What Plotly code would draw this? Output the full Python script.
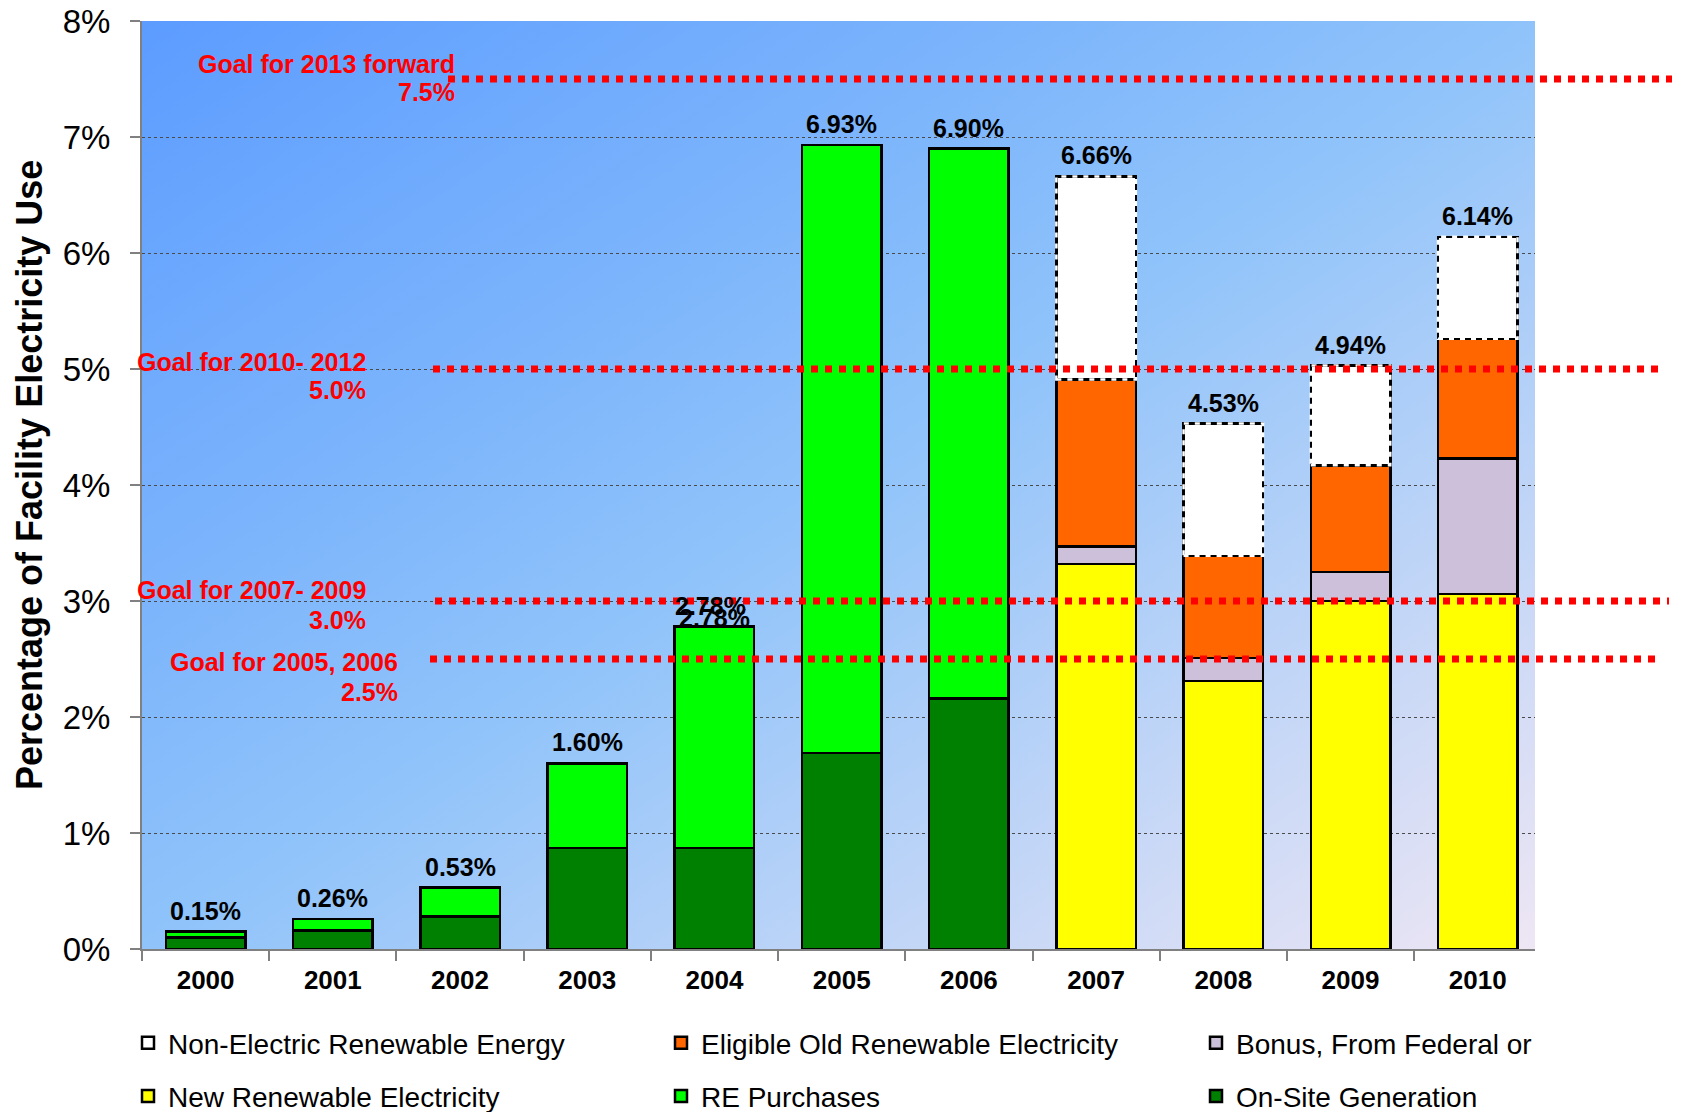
import base64
import plotly.graph_objects as go

# ---------------- data ----------------
years = ["2000", "2001", "2002", "2003", "2004", "2005", "2006", "2007", "2008", "2009", "2010"]
on_site = [0.10, 0.16, 0.28, 0.87, 0.87, 1.69, 2.16, None, None, None, None]
re_purchases = [0.05, 0.10, 0.25, 0.73, 1.91, 5.24, 4.74, None, None, None, None]
new_renewable = [None] * 7 + [3.32, 2.31, 3.00, 3.06]
bonus = [None] * 7 + [0.15, 0.20, 0.25, 1.17]
eligible_old = [None] * 7 + [1.44, 0.88, 0.92, 1.03]
non_electric = [None] * 7 + [1.75, 1.14, 0.86, 0.88]
total_labels = ["0.15%", "0.26%", "0.53%", "1.60%", "2.78%", "6.93%", "6.90%",
                "6.66%", "4.53%", "4.94%", "6.14%"]

goal_values = [7.5, 5.0, 3.0, 2.5]
goal_titles = ["Goal for 2013 forward", "Goal for 2010- 2012", "Goal for 2007- 2009", "Goal for 2005, 2006"]
goal_pcts = ["7.5%", "5.0%", "3.0%", "2.5%"]

# ---------------- style / layout params ----------------
FONT = "Arial, Liberation Sans, sans-serif"
W, H = 1683, 1112
ML, MR, MT, MB = 142, 148, 21, 163
PW = W - ML - MR
PH = H - MT - MB
BARGAP = 0.375
HALF = (1 - BARGAP) / 2

goal_line_start_px = [448, 433, 435, 430]
goal_line_end_px = [1672, 1663, 1669, 1658]
goal_label_right_px = [457, 368, 368, 400]
goal_title_shift = [15, 7, 11, -3]
goal_pct_shift = [-13, -21, -19, -33]


def px_to_xdom(px):
    return (px - ML) / PW


def px_to_ydom(px):
    return (H - MB - px) / PH


def val(v):
    return 0 if v is None else v


fig = go.Figure()

# (name, values, colour, legend column, legend rank)
series = [
    ("On-Site Generation", on_site, "#008000", "legend3", 2),
    ("RE Purchases", re_purchases, "#00FF00", "legend2", 2),
    ("New Renewable Electricity", new_renewable, "#FFFF00", "legend", 2),
    ("Bonus, From Federal or", bonus, "#CCC0DA", "legend3", 1),
    ("Eligible Old Renewable Electricity", eligible_old, "#FF6600", "legend2", 1),
    ("Non-Electric Renewable Energy", non_electric, "#FFFFFF", "legend", 1),
]
for name, vals, color, leg, rank in series:
    fig.add_trace(go.Bar(
        x=years, y=vals, name=name, legend=leg, legendgroup=name, legendrank=rank,
        marker=dict(color=color, line=dict(color="black", width=2.5)),
        hoverinfo="x+y+name",
    ))

# totals
totals = []
for i in range(len(years)):
    totals.append(sum(val(s[1][i]) for s in series))

# dashed outline for non-electric segments (white dashes over black outline)
for i, ne in enumerate(non_electric):
    if ne is None:
        continue
    base = val(new_renewable[i]) + val(bonus[i]) + val(eligible_old[i])
    fig.add_shape(type="rect", xref="x", yref="y",
                  x0=i - HALF, x1=i + HALF, y0=base, y1=base + ne,
                  line=dict(color="white", width=2.5, dash="5px,6px"),
                  fillcolor="rgba(0,0,0,0)", layer="above")

# total labels (x given as category index)
lab_font = dict(family=FONT, size=25, color="black", weight="bold")
for i, lab in enumerate(total_labels):
    fig.add_annotation(xref="x", yref="y", x=i, y=totals[i], text=lab, showarrow=False,
                       yanchor="middle", yshift=21 if i != 4 else 9, font=lab_font)
    if i == 4:  # doubled overlapping label in the original
        fig.add_annotation(xref="x", yref="y", x=i, y=totals[i], text=lab, showarrow=False,
                           yanchor="middle", yshift=21, xshift=-4, font=lab_font)

# goal lines and labels
goal_font = dict(family=FONT, size=25, color="#FF0000", weight="bold")
for k, g in enumerate(goal_values):
    fig.add_shape(type="line", xref="x domain", yref="y",
                  x0=px_to_xdom(goal_line_start_px[k]), x1=px_to_xdom(goal_line_end_px[k]),
                  y0=g, y1=g, line=dict(color="#FF0000", width=7, dash="dot"), layer="above")
    fig.add_annotation(xref="paper", yref="y", x=px_to_xdom(goal_label_right_px[k]), y=g,
                       xanchor="right", yanchor="middle", yshift=goal_title_shift[k],
                       text=goal_titles[k], showarrow=False, font=goal_font)
    fig.add_annotation(xref="paper", yref="y", x=px_to_xdom(goal_label_right_px[k]), y=g,
                       xanchor="right", yanchor="middle", yshift=goal_pct_shift[k],
                       text=goal_pcts[k], showarrow=False, font=goal_font)

# y axis title
fig.add_annotation(xref="paper", yref="paper", x=px_to_xdom(29), y=px_to_ydom(475),
                   text="Percentage of Facility Electricity Use", textangle=-90,
                   showarrow=False, xanchor="center", yanchor="middle",
                   font=dict(family=FONT, size=36, color="black", weight="bold"))

# gradient background
svg = ('<svg xmlns="http://www.w3.org/2000/svg" width="200" height="200" viewBox="0 0 200 200" '
       'preserveAspectRatio="none"><defs><linearGradient id="g" x1="0" y1="0" x2="1" y2="1">'
       '<stop offset="0" stop-color="#5C9CFF"/><stop offset="0.5" stop-color="#8FC3FA"/>'
       '<stop offset="1" stop-color="#EEE6F4"/></linearGradient></defs>'
       '<rect width="200" height="200" fill="url(#g)"/></svg>')
src = "data:image/svg+xml;base64," + base64.b64encode(svg.encode()).decode()
fig.add_layout_image(source=src, xref="paper", yref="paper", x=0, y=1, sizex=1, sizey=1,
                     xanchor="left", yanchor="top", sizing="stretch", layer="below")

legend_common = dict(orientation="v", xref="paper", yref="paper", xanchor="left", yanchor="top",
                     bgcolor="rgba(0,0,0,0)", borderwidth=0, traceorder="grouped",
                     tracegroupgap=14, font=dict(family=FONT, size=28, color="black"),
                     itemclick=False, itemdoubleclick=False)
leg_y = px_to_ydom(1018)

fig.update_layout(
    width=W, height=H, autosize=False,
    margin=dict(l=ML, r=MR, t=MT, b=MB, autoexpand=False),
    paper_bgcolor="white", plot_bgcolor="rgba(0,0,0,0)",
    barmode="stack", bargap=BARGAP,
    font=dict(family=FONT, color="black"),
    showlegend=True,
    legend=dict(x=px_to_xdom(128), y=leg_y, **legend_common),
    legend2=dict(x=px_to_xdom(661), y=leg_y, **legend_common),
    legend3=dict(x=px_to_xdom(1196), y=leg_y, **legend_common),
    xaxis=dict(type="category", automargin=False, showgrid=False,
               showline=True, linecolor="#808080", linewidth=2,
               ticks="outside", tickson="boundaries", ticklen=10, tickcolor="#808080", tickwidth=2,
               tickfont=dict(family=FONT, size=26, color="black", weight="bold"),
               ticklabelstandoff=7, range=[-0.5, 10.45]),
    yaxis=dict(range=[0, 8], automargin=False, tickvals=[0, 1, 2, 3, 4, 5, 6, 7, 8],
               ticktext=["0%", "1%", "2%", "3%", "4%", "5%", "6%", "7%", "8%"],
               showgrid=True, gridcolor="#4A4A4A", gridwidth=1, griddash="dot",
               zeroline=False, showline=True, linecolor="#808080", linewidth=2,
               ticks="outside", ticklen=10, tickcolor="#808080", tickwidth=2,
               tickfont=dict(family=FONT, size=33, color="black"), ticklabelstandoff=13),
)

fig.write_html("out.html")
